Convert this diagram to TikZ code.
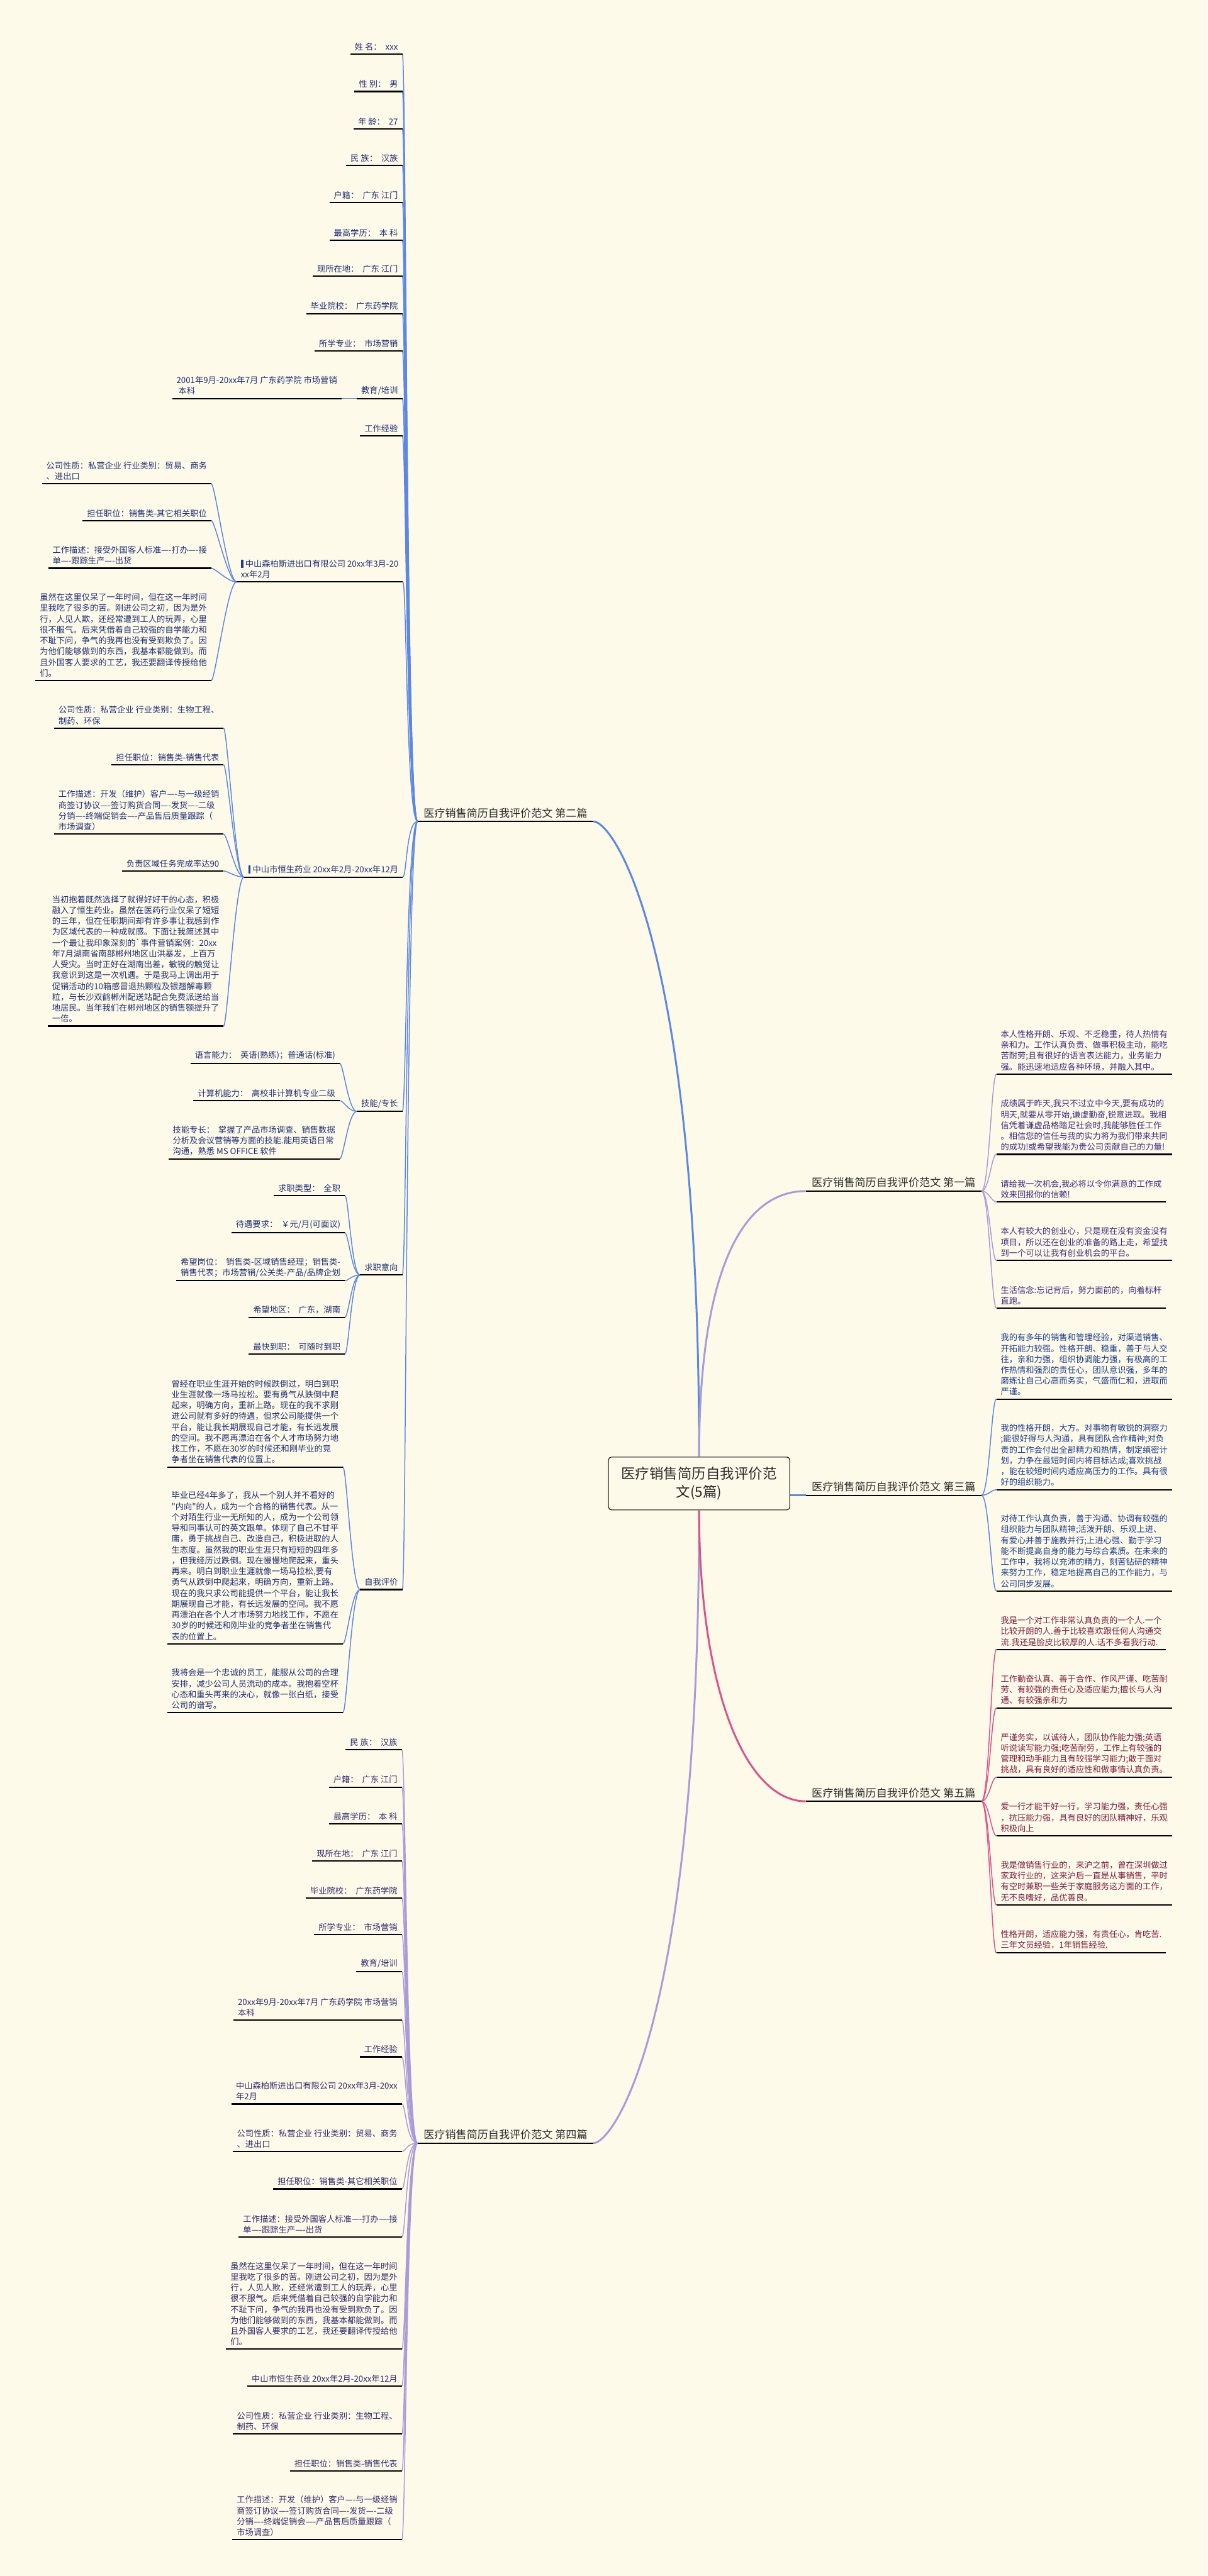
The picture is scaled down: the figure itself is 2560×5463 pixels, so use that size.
\documentclass[tikz,border=0pt]{standalone}
\usepackage{fontspec}
\newfontfamily\cjk{Noto Sans CJK SC}
\usetikzlibrary{calc}
\definecolor{bg}{HTML}{FEFAEA}
\definecolor{cblue}{HTML}{5C87E2}
\definecolor{clav}{HTML}{A89CD8}
\definecolor{cpink}{HTML}{D9548B}
\definecolor{tnavy}{HTML}{1F2F73}
\definecolor{tpurp}{HTML}{3B2D7E}
\definecolor{tblue}{HTML}{1E3C8C}
\definecolor{tmaroon}{HTML}{7A1E42}
\definecolor{tfour}{HTML}{2F2A6B}
\definecolor{labtext}{HTML}{2B2B2B}
\definecolor{barblue}{HTML}{1D3A9A}
\newcommand\mybar{{\color{barblue}\rule[-0.12em]{0.28em}{0.95em}}\hspace{0.25em}}
\begin{document}
\begin{tikzpicture}[x=0.5pt,y=-0.5pt,
  leaf/.style={align=left, inner xsep=4.5pt, inner ysep=3.5pt, font=\cjk\fontsize{8.85pt}{11.5pt}\selectfont},
  lft/.style={leaf, anchor=south east},
  rgt/.style={leaf, anchor=south west},
  lab/.style={inner xsep=6.2pt, inner ysep=3.5pt, font=\cjk\fontsize{11.4pt}{14pt}\selectfont, text=labtext},
  ul/.style={line width=1.4pt, black},
  cb/.style={line width=1pt, cblue},
  cl/.style={line width=1pt, clav},
  cp/.style={line width=1pt, cpink},
  mb/.style={line width=2pt, cblue},
  ml/.style={line width=2pt, clav},
  mp/.style={line width=2pt, cpink},
  t2/.style={text=tnavy}, t1/.style={text=tpurp}, t3/.style={text=tblue},
  t5/.style={text=tmaroon}, t4/.style={text=tfour}]
\fill[bg] (0,0) rectangle (2560,5463);
\useasboundingbox (0,0) rectangle (2560,5463);

% root
\node[draw=black, line width=0.7pt, rounded corners=3pt, fill=bg, minimum width=192pt, minimum height=56pt, align=center,
  font=\cjk\fontsize{15pt}{19.5pt}\selectfont, text=labtext] (root) at (1482,3146) {医疗销售简历自我评价范\\文(5篇)};

% main labels
\node[lab, anchor=south east] (L2) at (1258,1742) {医疗销售简历自我评价范文 第二篇};
\node[lab, anchor=south east] (L4) at (1258,4545) {医疗销售简历自我评价范文 第四篇};
\node[lab, anchor=south west] (L1) at (1708,2526) {医疗销售简历自我评价范文 第一篇};
\node[lab, anchor=south west] (L3) at (1708,3171) {医疗销售简历自我评价范文 第三篇};
\node[lab, anchor=south west] (L5) at (1708,3820) {医疗销售简历自我评价范文 第五篇};

% ---------- branch 2 ----------
\node[lft,t2] (a1) at (853,115) {姓 名：\ \ xxx};
\node[lft,t2] (a2) at (853,194) {性 别：\ \ 男};
\node[lft,t2] (a3) at (853,273) {年 龄：\ \ 27};
\node[lft,t2] (a4) at (853,351) {民 族：\ \ 汉族};
\node[lft,t2] (a5) at (853,430) {户籍：\ \ 广东 江门};
\node[lft,t2] (a6) at (853,509) {最高学历：\ \ 本 科};
\node[lft,t2] (a7) at (853,586) {现所在地：\ \ 广东 江门};
\node[lft,t2] (a8) at (853,665) {毕业院校：\ \ 广东药学院};
\node[lft,t2] (a9) at (853,744) {所学专业：\ \ 市场营销};
\node[lft,t2] (a10) at (853,845) {教育/培训};
\node[lft,t2] (a10x) at (724,845) {2001年9月-20xx年7月 广东药学院 市场营销\\\hspace{2pt}本科};
\node[lft,t2] (a11) at (853,924) {工作经验};
\node[lft,t2] (a12) at (854,1234) {\mybar 中山森柏斯进出口有限公司 20xx年3月-20\\xx年2月};
\node[lft,t2] (a12a) at (448,1026) {公司性质：私营企业 行业类别：贸易、商务\\、进出口};
\node[lft,t2] (a12b) at (448,1104) {担任职位：销售类-其它相关职位};
\node[lft,t2] (a12c) at (448,1205) {工作描述：接受外国客人标准—-打办—-接\\单—-跟踪生产—-出货};
\node[lft,t2] (a12d) at (448,1443) {虽然在这里仅呆了一年时间，但在这一年时间\\里我吃了很多的苦。刚进公司之初，因为是外\\行，人见人欺，还经常遭到工人的玩弄，心里\\很不服气。后来凭借着自己较强的自学能力和\\不耻下问，争气的我再也没有受到欺负了。因\\为他们能够做到的东西，我基本都能做到。而\\且外国客人要求的工艺，我还要翻译传授给他\\们。};
\node[lft,t2] (a13) at (854,1860) {\mybar 中山市恒生药业 20xx年2月-20xx年12月};
\node[lft,t2] (a13a) at (474,1544) {公司性质：私营企业 行业类别：生物工程、\\制药、环保};
\node[lft,t2] (a13b) at (474,1622) {担任职位：销售类-销售代表};
\node[lft,t2] (a13c) at (474,1769) {工作描述：开发（维护）客户—-与一级经销\\商签订协议—-签订购货合同—-发货—-二级\\分销—-终端促销会—-产品售后质量跟踪（\\市场调查）};
\node[lft,t2] (a13d) at (474,1847) {负责区域任务完成率达90};
\node[lft,t2] (a13e) at (474,2176) {当初抱着既然选择了就得好好干的心态，积极\\融入了恒生药业。虽然在医药行业仅呆了短短\\的三年，但在任职期间却有许多事让我感到作\\为区域代表的一种成就感。下面让我简述其中\\一个最让我印象深刻的`事件营销案例：20xx\\年7月湖南省南部郴州地区山洪暴发，上百万\\人受灾。当时正好在湖南出差，敏锐的触觉让\\我意识到这是一次机遇。于是我马上调出用于\\促销活动的10箱感冒退热颗粒及银翘解毒颗\\粒，与长沙双鹤郴州配送站配合免费派送给当\\地居民。当年我们在郴州地区的销售额提升了\\一倍。};
\node[lft,t2] (a14) at (853,2357) {技能/专长};
\node[lft,t2] (a14a) at (720,2255) {语言能力：\ \ 英语(熟练)；普通话(标准)};
\node[lft,t2] (a14b) at (720,2334) {计算机能力：\ \ 高校非计算机专业二级};
\node[lft,t2] (a14c) at (720,2458) {技能专长：\ \ 掌握了产品市场调查、销售数据\\分析及会议营销等方面的技能.能用英语日常\\沟通，熟悉 MS OFFICE 软件};
\node[lft,t2] (a15) at (853,2704) {求职意向};
\node[lft,t2] (a15a) at (731,2535) {求职类型：\ \ 全职};
\node[lft,t2] (a15b) at (731,2614) {待遇要求：\ \ ￥元/月(可面议)};
\node[lft,t2] (a15c) at (731,2716) {希望岗位：\ \ 销售类-区域销售经理；销售类-\\销售代表；市场营销/公关类-产品/品牌企划};
\node[lft,t2] (a15d) at (731,2794) {希望地区：\ \ 广东，湖南};
\node[lft,t2] (a15e) at (731,2872) {最快到职：\ \ 可随时到职};
\node[lft,t2] (a16) at (853,3371) {自我评价};
\node[lft,t2] (a16a) at (727,3111) {曾经在职业生涯开始的时候跌倒过，明白到职\\业生涯就像一场马拉松。要有勇气从跌倒中爬\\起来，明确方向，重新上路。现在的我不求刚\\进公司就有多好的待遇，但求公司能提供一个\\平台，能让我长期展现自己才能，有长远发展\\的空间。我不愿再漂泊在各个人才市场努力地\\找工作，不愿在30岁的时候还和刚毕业的竞\\争者坐在销售代表的位置上。};
\node[lft,t2] (a16b) at (727,3486) {毕业已经4年多了，我从一个别人并不看好的\\"内向"的人，成为一个合格的销售代表。从一\\个对陌生行业一无所知的人，成为一个公司领\\导和同事认可的英文跟单。体现了自己不甘平\\庸，勇于挑战自己、改造自己，积极进取的人\\生态度。虽然我的职业生涯只有短短的四年多\\，但我经历过跌倒。现在慢慢地爬起来，重头\\再来。明白到职业生涯就像一场马拉松,要有\\勇气从跌倒中爬起来，明确方向，重新上路。\\现在的我只求公司能提供一个平台，能让我长\\期展现自己才能，有长远发展的空间。我不愿\\再漂泊在各个人才市场努力地找工作，不愿在\\30岁的时候还和刚毕业的竞争者坐在销售代\\表的位置上。};
\node[lft,t2] (a16c) at (727,3632) {我将会是一个忠诚的员工，能服从公司的合理\\安排，减少公司人员流动的成本。我抱着空杯\\心态和重头再来的决心，就像一张白纸，接受\\公司的谱写。};

% ---------- branch 4 ----------
\node[lft,t4] (q1) at (852,3711) {民 族：\ \ 汉族};
\node[lft,t4] (q2) at (852,3790) {户籍：\ \ 广东 江门};
\node[lft,t4] (q3) at (852,3868) {最高学历：\ \ 本 科};
\node[lft,t4] (q4) at (852,3947) {现所在地：\ \ 广东 江门};
\node[lft,t4] (q5) at (852,4025) {毕业院校：\ \ 广东药学院};
\node[lft,t4] (q6) at (852,4103) {所学专业：\ \ 市场营销};
\node[lft,t4] (q7) at (852,4181) {教育/培训};
\node[lft,t4] (q8) at (852,4284) {20xx年9月-20xx年7月 广东药学院 市场营销\\本科};
\node[lft,t4] (q9) at (852,4362) {工作经验};
\node[lft,t4] (q10) at (852,4462) {中山森柏斯进出口有限公司 20xx年3月-20xx\\年2月};
\node[lft,t4] (q11) at (852,4563) {公司性质：私营企业 行业类别：贸易、商务\\、进出口};
\node[lft,t4] (q12) at (852,4642) {担任职位：销售类-其它相关职位};
\node[lft,t4] (q13) at (852,4744) {工作描述：接受外国客人标准—-打办—-接\\单—-跟踪生产—-出货};
\node[lft,t4] (q14) at (852,4982) {虽然在这里仅呆了一年时间，但在这一年时间\\里我吃了很多的苦。刚进公司之初，因为是外\\行，人见人欺，还经常遭到工人的玩弄，心里\\很不服气。后来凭借着自己较强的自学能力和\\不耻下问，争气的我再也没有受到欺负了。因\\为他们能够做到的东西，我基本都能做到。而\\且外国客人要求的工艺，我还要翻译传授给他\\们。};
\node[lft,t4] (q15) at (852,5060) {中山市恒生药业 20xx年2月-20xx年12月};
\node[lft,t4] (q16) at (852,5162) {公司性质：私营企业 行业类别：生物工程、\\制药、环保};
\node[lft,t4] (q17) at (852,5240) {担任职位：销售类-销售代表};
\node[lft,t4] (q18) at (852,5386) {工作描述：开发（维护）客户—-与一级经销\\商签订协议—-签订购货合同—-发货—-二级\\分销—-终端促销会—-产品售后质量跟踪（\\市场调查）};

% ---------- branch 1 ----------
\node[rgt,t1] (r1a) at (2112,2278) {本人性格开朗、乐观、不乏稳重，待人热情有\\亲和力。工作认真负责、做事积极主动，能吃\\苦耐劳;且有很好的语言表达能力，业务能力\\强。能迅速地适应各种环境，并融入其中。};
\node[rgt,t1] (r1b) at (2112,2448) {成绩属于昨天,我只不过立中今天,要有成功的\\明天,就要从零开始,谦虚勤奋,锐意进取。我相\\信凭着谦虚品格踏足社会时,我能够胜任工作\\。相信您的信任与我的实力将为我们带来共同\\的成功!或希望我能为贵公司贡献自己的力量!};
\node[rgt,t1] (r1c) at (2112,2549) {请给我一次机会,我必将以令你满意的工作成\\效来回报你的信赖!};
\node[rgt,t1] (r1d) at (2112,2673) {本人有较大的创业心，只是现在没有资金没有\\项目，所以还在创业的准备的路上走，希望找\\到一个可以让我有创业机会的平台。};
\node[rgt,t1] (r1e) at (2112,2774) {生活信念:忘记背后，努力面前的，向着标杆\\直跑。};

% ---------- branch 3 ----------
\node[rgt,t3] (r3a) at (2112,2967) {我的有多年的销售和管理经验，对渠道销售、\\开拓能力较强。性格开朗、稳重，善于与人交\\往，亲和力强，组织协调能力强，有极高的工\\作热情和强烈的责任心，团队意识强，多年的\\磨练让自己心高而务实，气盛而仁和，进取而\\严谨。};
\node[rgt,t3] (r3b) at (2112,3159) {我的性格开朗，大方。对事物有敏锐的洞察力\\;能很好得与人沟通，具有团队合作精神;对负\\责的工作会付出全部精力和热情，制定缜密计\\划，力争在最短时间内将目标达成;喜欢挑战\\，能在较短时间内适应高压力的工作。具有很\\好的组织能力。};
\node[rgt,t3] (r3c) at (2112,3374) {对待工作认真负责，善于沟通、协调有较强的\\组织能力与团队精神;活泼开朗、乐观上进、\\有爱心并善于施教并行;上进心强、勤于学习\\能不断提高自身的能力与综合素质。在未来的\\工作中，我将以充沛的精力，刻苦钻研的精神\\来努力工作，稳定地提高自己的工作能力，与\\公司同步发展。};

% ---------- branch 5 ----------
\node[rgt,t5] (r5a) at (2112,3498) {我是一个对工作非常认真负责的一个人.一个\\比较开朗的人.善于比较喜欢跟任何人沟通交\\流.我还是脸皮比较厚的人.话不多看我行动.};
\node[rgt,t5] (r5b) at (2112,3622) {工作勤奋认真、善于合作、作风严谨、吃苦耐\\劳、有较强的责任心及适应能力;擅长与人沟\\通、有较强亲和力};
\node[rgt,t5] (r5c) at (2112,3769) {严谨务实，以诚待人，团队协作能力强;英语\\听说读写能力强;吃苦耐劳，工作上有较强的\\管理和动手能力且有较强学习能力;敢于面对\\挑战，具有良好的适应性和做事情认真负责。};
\node[rgt,t5] (r5d) at (2112,3893) {爱一行才能干好一行，学习能力强，责任心强\\，抗压能力强，具有良好的团队精神好，乐观\\积极向上};
\node[rgt,t5] (r5e) at (2112,4040) {我是做销售行业的，来沪之前，曾在深圳做过\\家政行业的，这来沪后一直是从事销售，平时\\有空时兼职一些关于家庭服务这方面的工作，\\无不良嗜好，品优善良。};
\node[rgt,t5] (r5f) at (2112,4141) {性格开朗，适应能力强，有责任心，肯吃苦.\\三年文员经验，1年销售经验.};

% ---------- connectors ----------
\draw[mb] (root.north) .. controls +(0,-1090) and +(42,0) .. (L2.south east);
\draw[ml] (root.south) .. controls +(0,1088) and +(42,0) .. (L4.south east);
\draw[ml] (root.north) .. controls +(0,-410) and +(-128,0) .. (L1.south west);
\draw[mp] (root.south) .. controls +(0,378) and +(-128,0) .. (L5.south west);
\draw[mb] (root.east |- L3.south west) -- (L3.south west);

\foreach \c in {a1,a2,a3,a4,a5,a6,a7,a8,a9,a10,a11,a12,a13,a14,a15,a16}
  \draw[cb] (L2.south west) .. controls +(-24,0) and +(8,0) .. (\c.south east);
\draw[cb] (a10.south west) -- (a10x.south east);
\foreach \c in {a12a,a12b,a12c,a12d}
  \draw[cb] (a12.south west) .. controls +(-18,0) and +(8,0) .. (\c.south east);
\foreach \c in {a13a,a13b,a13c,a13d,a13e}
  \draw[cb] (a13.south west) .. controls +(-18,0) and +(8,0) .. (\c.south east);
\foreach \c in {a14a,a14b,a14c}
  \draw[cb] (a14.south west) .. controls +(-18,0) and +(8,0) .. (\c.south east);
\foreach \c in {a15a,a15b,a15c,a15d,a15e}
  \draw[cb] (a15.south west) .. controls +(-18,0) and +(8,0) .. (\c.south east);
\foreach \c in {a16a,a16b,a16c}
  \draw[cb] (a16.south west) .. controls +(-18,0) and +(8,0) .. (\c.south east);
\foreach \c in {q1,q2,q3,q4,q5,q6,q7,q8,q9,q10,q11,q12,q13,q14,q15,q16,q17,q18}
  \draw[cl] (L4.south west) .. controls +(-24,0) and +(8,0) .. (\c.south east);
\foreach \c in {r1a,r1b,r1c,r1d,r1e}
  \draw[cl] (L1.south east) .. controls +(16,0) and +(-10,0) .. (\c.south west);
\foreach \c in {r3a,r3b,r3c}
  \draw[cb] (L3.south east) .. controls +(16,0) and +(-10,0) .. (\c.south west);
\foreach \c in {r5a,r5b,r5c,r5d,r5e,r5f}
  \draw[cp] (L5.south east) .. controls +(16,0) and +(-10,0) .. (\c.south west);

% ---------- underlines ----------
\foreach \n in {L1,L2,L3,L4,L5,a1,a2,a3,a4,a5,a6,a7,a8,a9,a10,a10x,a11,a12,a12a,a12b,a12c,a12d,a13,a13a,a13b,a13c,a13d,a13e,a14,a14a,a14b,a14c,a15,a15a,a15b,a15c,a15d,a15e,a16,a16a,a16b,a16c,q1,q2,q3,q4,q5,q6,q7,q8,q9,q10,q11,q12,q13,q14,q15,q16,q17,q18,r1a,r1b,r1c,r1d,r1e,r3a,r3b,r3c,r5a,r5b,r5c,r5d,r5e,r5f}
  \draw[ul] (\n.south west) -- (\n.south east);
\end{tikzpicture}
\end{document}
